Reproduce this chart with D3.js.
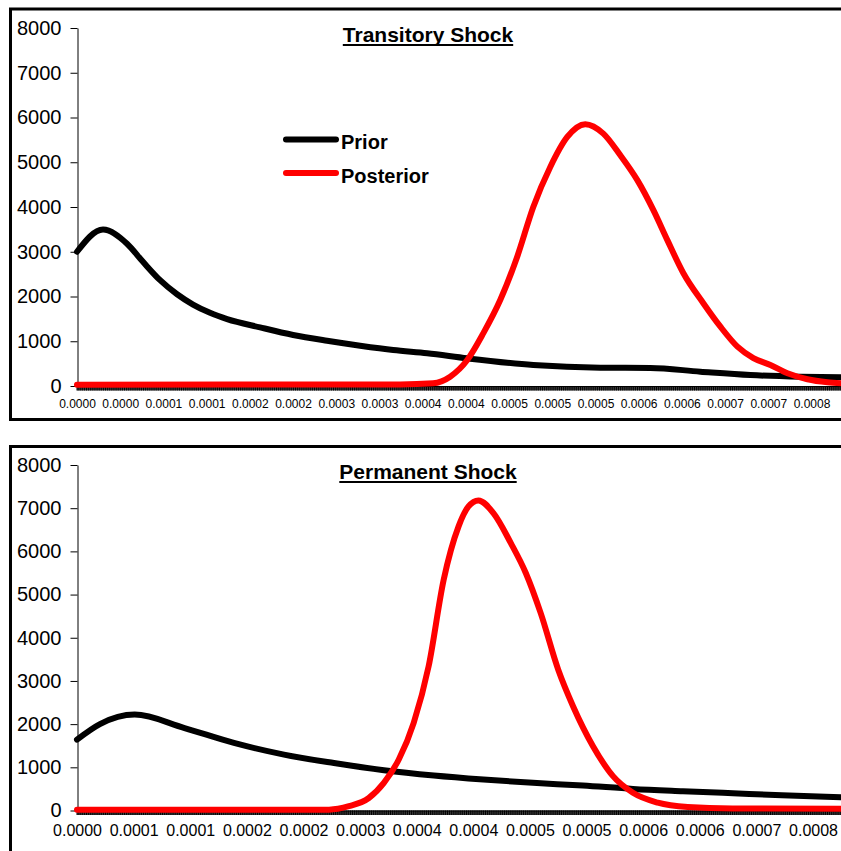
<!DOCTYPE html>
<html>
<head>
<meta charset="utf-8">
<script src="https://cdn.jsdelivr.net/npm/d3@7"></script>
<style>
  body { margin: 0; background: #fff; }
  svg { display: block; font-family: Arial, "Liberation Sans", sans-serif; }
</style>
</head>
<body>
<div id="container"></div>
<script>
// transitory shock
const topPriorX = [0, 0.0000274, 0.0000527, 0.0000695, 0.0000875, 0.0001054, 0.0001222, 0.0001401, 0.0001581,
    0.0001928, 0.0002276, 0.0002634, 0.0002982, 0.000333, 0.0003688, 0.000411, 0.0004805, 0.0005511,
    0.0006038, 0.0006565, 0.0007092, 0.0007619, 0.0008051];
const topPriorY = [3000, 3495, 3180, 2775, 2365, 2050, 1820, 1635, 1495,
    1310, 1140, 1010, 900, 803, 730, 618, 469, 409,
    404, 320, 245, 208, 196];

const topPostX = [0, 0.0003404, 0.000375, 0.000393, 0.000411, 0.0004278, 0.0004457, 0.0004636, 0.0004805,
    0.0004984, 0.0005163, 0.0005353, 0.0005543, 0.0005722, 0.0005901, 0.000607, 0.0006217, 0.0006386,
    0.0006596, 0.0006776, 0.0006955, 0.0007123, 0.0007302, 0.0007482, 0.0007692, 0.0007903, 0.0008051];
const topPostY = [30, 35, 60, 208, 580, 1175, 1920, 2890, 4000,
    4895, 5565, 5850, 5640, 5155, 4600, 3930, 3260, 2520,
    1850, 1325, 880, 625, 470, 283, 150, 83, 60];

// permanent shock
const botPriorX = [0, 0.0000238, 0.0000599, 0.0001117, 0.000163, 0.000215, 0.0002669, 0.0003188, 0.0003707,
    0.0004221, 0.0004735, 0.0005254, 0.0005774, 0.0006293, 0.0006812, 0.0007321, 0.0007934];
const botPriorY = [1640, 2000, 2220, 1910, 1565, 1295, 1100, 933, 810,
    717, 640, 578, 500, 447, 400, 355, 308];

const botPostX = [0, 0.0002617, 0.0002824, 0.0003031, 0.0003187, 0.0003342, 0.0003497, 0.0003652, 0.0003808,
    0.0003963, 0.0004066, 0.0004169, 0.0004325, 0.0004506, 0.0004661, 0.0004816, 0.0004998, 0.0005153,
    0.0005359, 0.0005567, 0.0005774, 0.0006032, 0.0006343, 0.0006808, 0.0007934];
const botPostY = [20, 20, 100, 290, 640, 1180, 2030, 3340, 5340,
    6580, 7040, 7180, 6885, 6190, 5500, 4570, 3260, 2410,
    1490, 795, 410, 180, 80, 45, 40];

const topTickLabels = ['0.0000', '0.0000', '0.0001', '0.0001', '0.0002', '0.0002', '0.0003', '0.0003', '0.0004',
    '0.0004', '0.0005', '0.0005', '0.0005', '0.0006', '0.0006', '0.0007', '0.0007', '0.0008'];
const botTickLabels = ['0.0000', '0.0001', '0.0001', '0.0002', '0.0002', '0.0003', '0.0004',
    '0.0004', '0.0005', '0.0005', '0.0006', '0.0006', '0.0007', '0.0008'];
const topStep = 0.0000455;
const botStep = 0.0000588;
const yTicks = [0, 1000, 2000, 3000, 4000, 5000, 6000, 7000, 8000];

const seriesNames = ['Prior', 'Posterior'];
const seriesColors = ['#000000', '#ff0000'];

const W = 841, H = 851;

const svg = d3.select('#container')
    .append('svg')
    .attr('width', W)
    .attr('height', H);

const zip = (xs, ys) => xs.map((x, i) => ({ x: x, y: ys[i] }));

const drawPanel = (cfg) => {
    const g = svg.append('g');

    // frame
    g.append('rect')
        .attr('x', 10.5)
        .attr('y', cfg.frameTop)
        .attr('width', 900)
        .attr('height', cfg.frameHeight)
        .attr('fill', 'none')
        .attr('stroke', '#000')
        .attr('stroke-width', 3);

    const x = d3.scaleLinear()
        .domain([0, (cfg.labels.length - 1) * cfg.step])
        .range([77, cfg.lastLabelX]);

    const y = d3.scaleLinear()
        .domain([0, 8000])
        .range([cfg.y0, cfg.y8000]);

    // y axis
    const yAxis = g.append('g')
        .attr('transform', 'translate(77.5, 0)')
        .call(d3.axisLeft(y).tickValues(yTicks).tickFormat(d3.format('d'))
            .tickSize(7).tickPadding(9).tickSizeOuter(0));
    yAxis.select('.domain').attr('stroke', '#000');
    yAxis.selectAll('.tick line').attr('stroke', '#000');
    yAxis.selectAll('text')
        .attr('font-family', 'Arial, "Liberation Sans", sans-serif')
        .attr('font-size', 20)
        .attr('fill', '#000');

    // dense category ticks under the zero line
    const band = g.append('g');
    band.append('rect')
        .attr('x', 77).attr('width', W - 77)
        .attr('y', cfg.y0).attr('height', 4.5)
        .attr('fill', '#444');
    const fine = d3.range(77, W, 1.9);
    band.selectAll('line.fine')
        .data(fine)
        .join('line')
        .attr('class', 'fine')
        .attr('x1', d => d).attr('x2', d => d)
        .attr('y1', cfg.y0).attr('y2', cfg.y0 + 4.5)
        .attr('stroke', '#000')
        .attr('stroke-width', 1);
    band.append('line')
        .attr('x1', 77).attr('x2', W)
        .attr('y1', cfg.y0 + 0.5).attr('y2', cfg.y0 + 0.5)
        .attr('stroke', '#000');

    // x labels
    const xAxis = g.append('g')
        .attr('transform', `translate(0, ${cfg.y0})`)
        .call(d3.axisBottom(x)
            .tickValues(cfg.labels.map((_, i) => i * cfg.step))
            .tickFormat((d, i) => cfg.labels[i])
            .tickSize(0)
            .tickPadding(cfg.labelPad));
    xAxis.select('.domain').remove();
    xAxis.selectAll('text')
        .attr('font-family', 'Arial, "Liberation Sans", sans-serif')
        .attr('font-size', cfg.labelSize)
        .attr('fill', '#000');

    // title
    const title = g.append('text')
        .attr('x', 428)
        .attr('y', cfg.titleY)
        .attr('text-anchor', 'middle')
        .attr('font-weight', 'bold')
        .attr('font-size', 21)
        .text(cfg.title);
    const tw = title.node().getComputedTextLength();
    g.append('line')
        .attr('x1', 428 - tw / 2).attr('x2', 428 + tw / 2)
        .attr('y1', cfg.titleY + 3).attr('y2', cfg.titleY + 3)
        .attr('stroke', '#000')
        .attr('stroke-width', 2);

    const line = d3.line()
        .x(d => x(d.x))
        .y(d => y(d.y))
        .curve(d3.curveMonotoneX);

    cfg.series.forEach((s, i) => {
        g.append('path')
            .datum(s)
            .attr('d', line)
            .attr('fill', 'none')
            .attr('stroke', seriesColors[i])
            .attr('stroke-width', 6)
            .attr('stroke-linejoin', 'round')
            .attr('stroke-linecap', 'round');
    });

    return g;
}

drawPanel({
    frameTop: 9, frameHeight: 410.5,
    y0: 386, y8000: 28,
    labels: topTickLabels, step: topStep, lastLabelX: 811.5,
    labelSize: 12, labelPad: 13,
    title: 'Transitory Shock', titleY: 42,
    series: [zip(topPriorX, topPriorY), zip(topPostX, topPostY)]
});

drawPanel({
    frameTop: 446.5, frameHeight: 500,
    y0: 810.5, y8000: 465,
    labels: botTickLabels, step: botStep, lastLabelX: 813,
    labelSize: 16, labelPad: 14,
    title: 'Permanent Shock', titleY: 479,
    series: [zip(botPriorX, botPriorY), zip(botPostX, botPostY)]
});

// legend (top panel only)
const legend = svg.append('g');
seriesNames.forEach((name, i) => {
    const ly = 139.5 + i * 33.5;
    legend.append('line')
        .attr('x1', 286).attr('x2', 336)
        .attr('y1', ly).attr('y2', ly)
        .attr('stroke', seriesColors[i])
        .attr('stroke-width', 6)
        .attr('stroke-linecap', 'round');
    legend.append('text')
        .attr('x', 341)
        .attr('y', ly + 9.5)
        .attr('font-weight', 'bold')
        .attr('font-size', 20)
        .text(name);
});
</script>
</body>
</html>
